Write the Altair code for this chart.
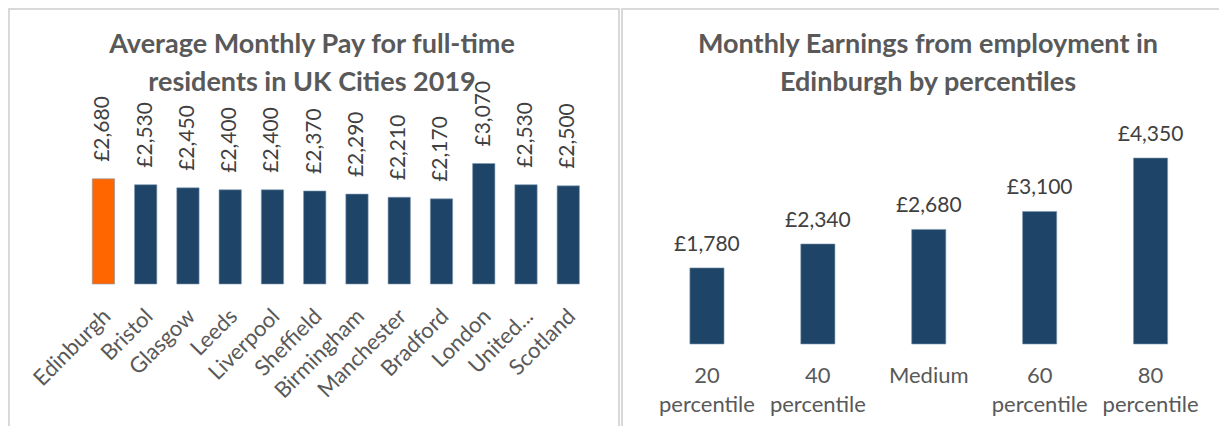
import altair as alt
import pandas as pd

# ---- data ----
cities = ["Edinburgh", "Bristol", "Glasgow", "Leeds", "Liverpool", "Sheffield",
          "Birmingham", "Manchester", "Bradford", "London", "United...", "Scotland"]
pay = [2680, 2530, 2450, 2400, 2400, 2370, 2290, 2210, 2170, 3070, 2530, 2500]
highlight = "Edinburgh"

pct_labels = ["20 percentile", "40 percentile", "Medium", "60 percentile", "80 percentile"]
earnings = [1780, 2340, 2680, 3100, 4350]

left_title = ["Average Monthly Pay for full-time", "residents in UK Cities 2019"]
right_title = ["Monthly Earnings from employment in", "Edinburgh by percentiles"]

# ---- styles ----
NAVY = "#1E4568"
ORANGE = "#FF6600"
BORDER = "#D9D9D9"
TITLE_C = "#595959"
LABEL_C = "#404040"
FONT = "Lato"
W, H = 1211, 418

left_df = pd.DataFrame({"city": cities, "pay": pay})
right_df = pd.DataFrame({"pct": pct_labels, "earn": earnings})
one = alt.Data(values=[{}])


def x_left():
    return alt.X("city:N", sort=cities, axis=None,
                 scale=alt.Scale(range=[74.3, 581.4], paddingInner=0.472, paddingOuter=0.236))


def y_left():
    return alt.Y("pay:Q", axis=None,
                 scale=alt.Scale(domain=[0, max(pay)], range=[276, 155.5], nice=False))


def x_right():
    return alt.X("pct:N", sort=pct_labels, axis=None,
                 scale=alt.Scale(range=[643.5, 1198.0], paddingInner=0.692, paddingOuter=0.346))


def y_right():
    return alt.Y("earn:Q", axis=None,
                 scale=alt.Scale(domain=[0, max(earnings)], range=[336, 150], nice=False))


# ---- panel borders ----
def rule(**enc):
    return alt.Chart(one).mark_rule(color=BORDER, strokeWidth=2).encode(**enc)


borders = [
    rule(x=alt.value(1), y=alt.value(0), y2=alt.value(H)),
    rule(x=alt.value(0), x2=alt.value(612), y=alt.value(1)),
    rule(x=alt.value(611), y=alt.value(0), y2=alt.value(H)),
    rule(x=alt.value(614), y=alt.value(0), y2=alt.value(H)),
    rule(x=alt.value(613), x2=alt.value(W), y=alt.value(1)),
]

# ---- left panel ----
left_bars = alt.Chart(left_df).mark_bar(stroke="#7F98B0", strokeWidth=0.6).encode(
    x=x_left(), y=y_left(),
    color=alt.condition(alt.datum.city == highlight, alt.value(ORANGE), alt.value(NAVY)),
)
left_vals = alt.Chart(left_df).transform_calculate(
    label='"£" + format(datum.pay, ",")'
).mark_text(angle=270, align="left", baseline="middle", dx=17,
            font=FONT, fontSize=21, color=LABEL_C).encode(
    x=x_left(), y=y_left(), text="label:N")
left_ticks = alt.Chart(left_df).mark_text(
    angle=315, align="right", baseline="top", dx=-3, dy=-2,
    font=FONT, fontSize=22, color=TITLE_C).encode(
    x=x_left(), y=alt.value(297), text="city:N")
left_ttl = alt.Chart(one).mark_text(
    align="center", baseline="alphabetic", lineHeight=38, font=FONT,
    fontSize=27, fontWeight="bold", color=TITLE_C).encode(
    x=alt.value(304), y=alt.value(45), text=alt.value(left_title))

# ---- right panel ----
right_bars = alt.Chart(right_df).mark_bar(color=NAVY, stroke="#7F98B0", strokeWidth=0.6).encode(
    x=x_right(), y=y_right())
right_vals = alt.Chart(right_df).transform_calculate(
    label='"£" + format(datum.earn, ",")'
).mark_text(align="center", baseline="alphabetic", dy=-17,
            font=FONT, fontSize=21, color=LABEL_C).encode(
    x=x_right(), y=y_right(), text="label:N")
right_ticks = alt.Chart(right_df).mark_text(
    align="center", baseline="alphabetic", lineBreak=" ", lineHeight=29,
    font=FONT, fontSize=22, color=TITLE_C).encode(
    x=x_right(), y=alt.value(375), text="pct:N")
right_ttl = alt.Chart(one).mark_text(
    align="center", baseline="alphabetic", lineHeight=38, font=FONT,
    fontSize=27, fontWeight="bold", color=TITLE_C).encode(
    x=alt.value(920), y=alt.value(45), text=alt.value(right_title))

chart = alt.layer(
    *borders, left_bars, left_vals, left_ticks, left_ttl,
    right_bars, right_vals, right_ticks, right_ttl
).resolve_scale(x="independent", y="independent").properties(
    width=W, height=H, padding=0, autosize=alt.AutoSizeParams(type="none"),
    background="white",
).configure_view(strokeWidth=0)

chart.save("out.html", embed_options={"renderer": "svg", "actions": False})
